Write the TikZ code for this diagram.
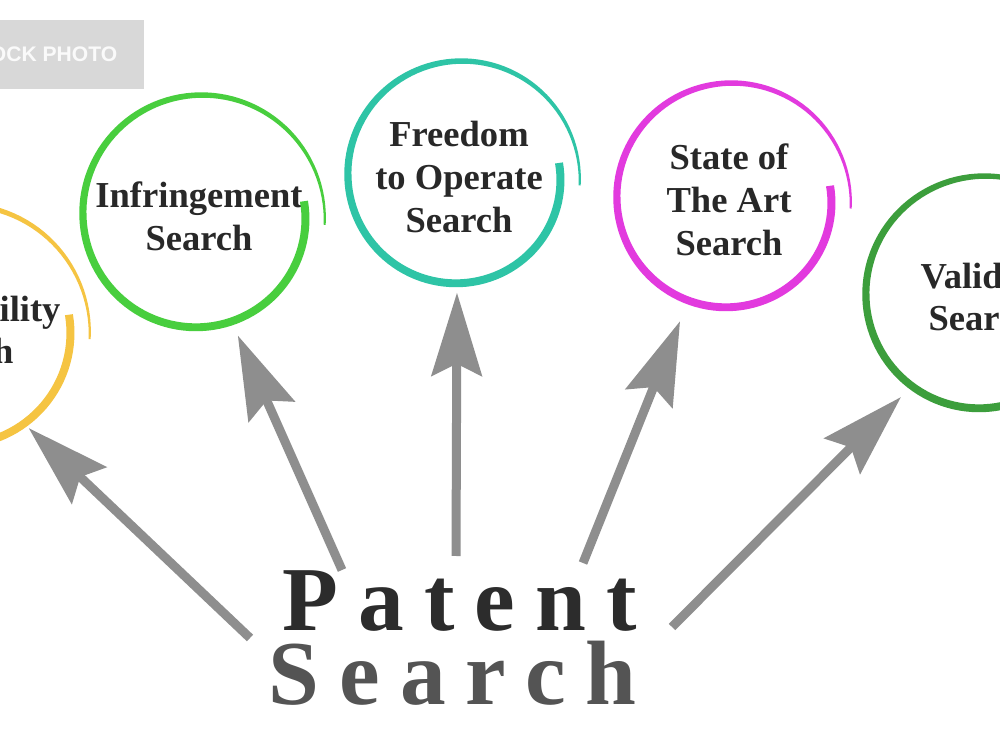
\documentclass[tikz,border=0pt]{standalone}
\usepackage{fontspec}
\setmainfont{Liberation Serif}
\newfontfamily\widefont[LetterSpace=22]{Liberation Serif}
\newfontfamily\stockfont{Liberation Sans}
\usepackage{xcolor}
\usepackage{tikz}
\usetikzlibrary{arrows.meta}
\usetikzlibrary{calc}

\definecolor{ringyellow}{RGB}{245,196,66}
\definecolor{ringgreen}{RGB}{72,206,62}
\definecolor{ringteal}{RGB}{46,196,166}
\definecolor{ringpink}{RGB}{226,58,222}
\definecolor{ringdkgreen}{RGB}{60,158,60}
\definecolor{arrowgray}{RGB}{142,142,142}
\definecolor{textdark}{RGB}{40,40,40}
\definecolor{patentdark}{RGB}{44,44,44}
\definecolor{searchgray}{RGB}{84,84,84}
\definecolor{stockgray}{RGB}{216,216,216}

% brush stroke ring round a node: #1 node, #2 radius (px), #3 colour
\newcommand{\brushring}[3]{
  \fill[#3, shift={(#1.center)}]
    plot[domain=-8:364, samples=120] (\x:{#2-10+20*(\x+8)/372+(4-3*((\x+8)/372)^3)})
    -- plot[domain=364:-8, samples=120] (\x:{#2-10+20*(\x+8)/372-(4-3*((\x+8)/372)^3)})
    -- cycle;
}

\tikzset{
  topic/.style={circle, inner sep=0pt, align=center, text=textdark,
    font=\fontsize{10.4}{12.2}\selectfont\bfseries},
  bigword/.style={inner sep=0pt, font=\widefont\fontsize{26}{28}\selectfont\bfseries},
  pointer/.style={draw=arrowgray, line width=0.9mm,
    -{Stealth[length=8.3mm, width=5mm, inset=1.2mm]}}
}

\begin{document}
\begin{tikzpicture}[x=0.1mm, y=-0.1mm]
\path[use as bounding box, clip] (0,0) rectangle (1000,750);
\fill[white] (0,0) rectangle (1000,750);

% stock photo stamp
\fill[stockgray] (0,20) rectangle (144,89);
\node[anchor=base east, inner sep=0pt, text=white!96!gray,
  font=\stockfont\fontsize{6}{7}\selectfont\bfseries] (stamp) at (118,62) {OCK PHOTO};

% the five searches
\node[topic, minimum size=23.8mm] (pab) at (-40,330) {Patentability\\Search};
\node[topic, minimum size=25mm] (inf) at (199,216) {Infringement\\Search};
\node[topic, minimum size=23mm] (fto) at (459,177) {Freedom\\to Operate\\Search};
\node[topic, minimum size=26mm] (sota) at (729,200) {State of\\The Art\\Search};
\node[topic, minimum size=25.6mm] (val) at (982,297) {Validity\\Search};

\foreach \n/\r/\c in {pab/120/ringyellow, inf/116/ringgreen, fto/111/ringteal,
    sota/112/ringpink, val/116/ringdkgreen}
  \brushring{\n}{\r}{\c};

% title
\node[bigword, text=patentdark, anchor=base west] (patent) at (282,631) {Patent};
\node[bigword, text=searchgray, anchor=base west] (search) at (268,704) {Search};

% arrows
\coordinate (t-pab) at (250,638);
\coordinate (t-inf) at (342,570);
\coordinate (t-fto) at (456,556);
\coordinate (t-sota) at (583,563);
\coordinate (t-val) at (672,627);
\foreach \from/\to in {t-pab/pab.-55, t-inf/inf.-72, t-fto/fto.-91,
    t-sota/sota.-112, t-val/val.-129}
  \draw[pointer] (\from) -- (\to);
\end{tikzpicture}
\end{document}
